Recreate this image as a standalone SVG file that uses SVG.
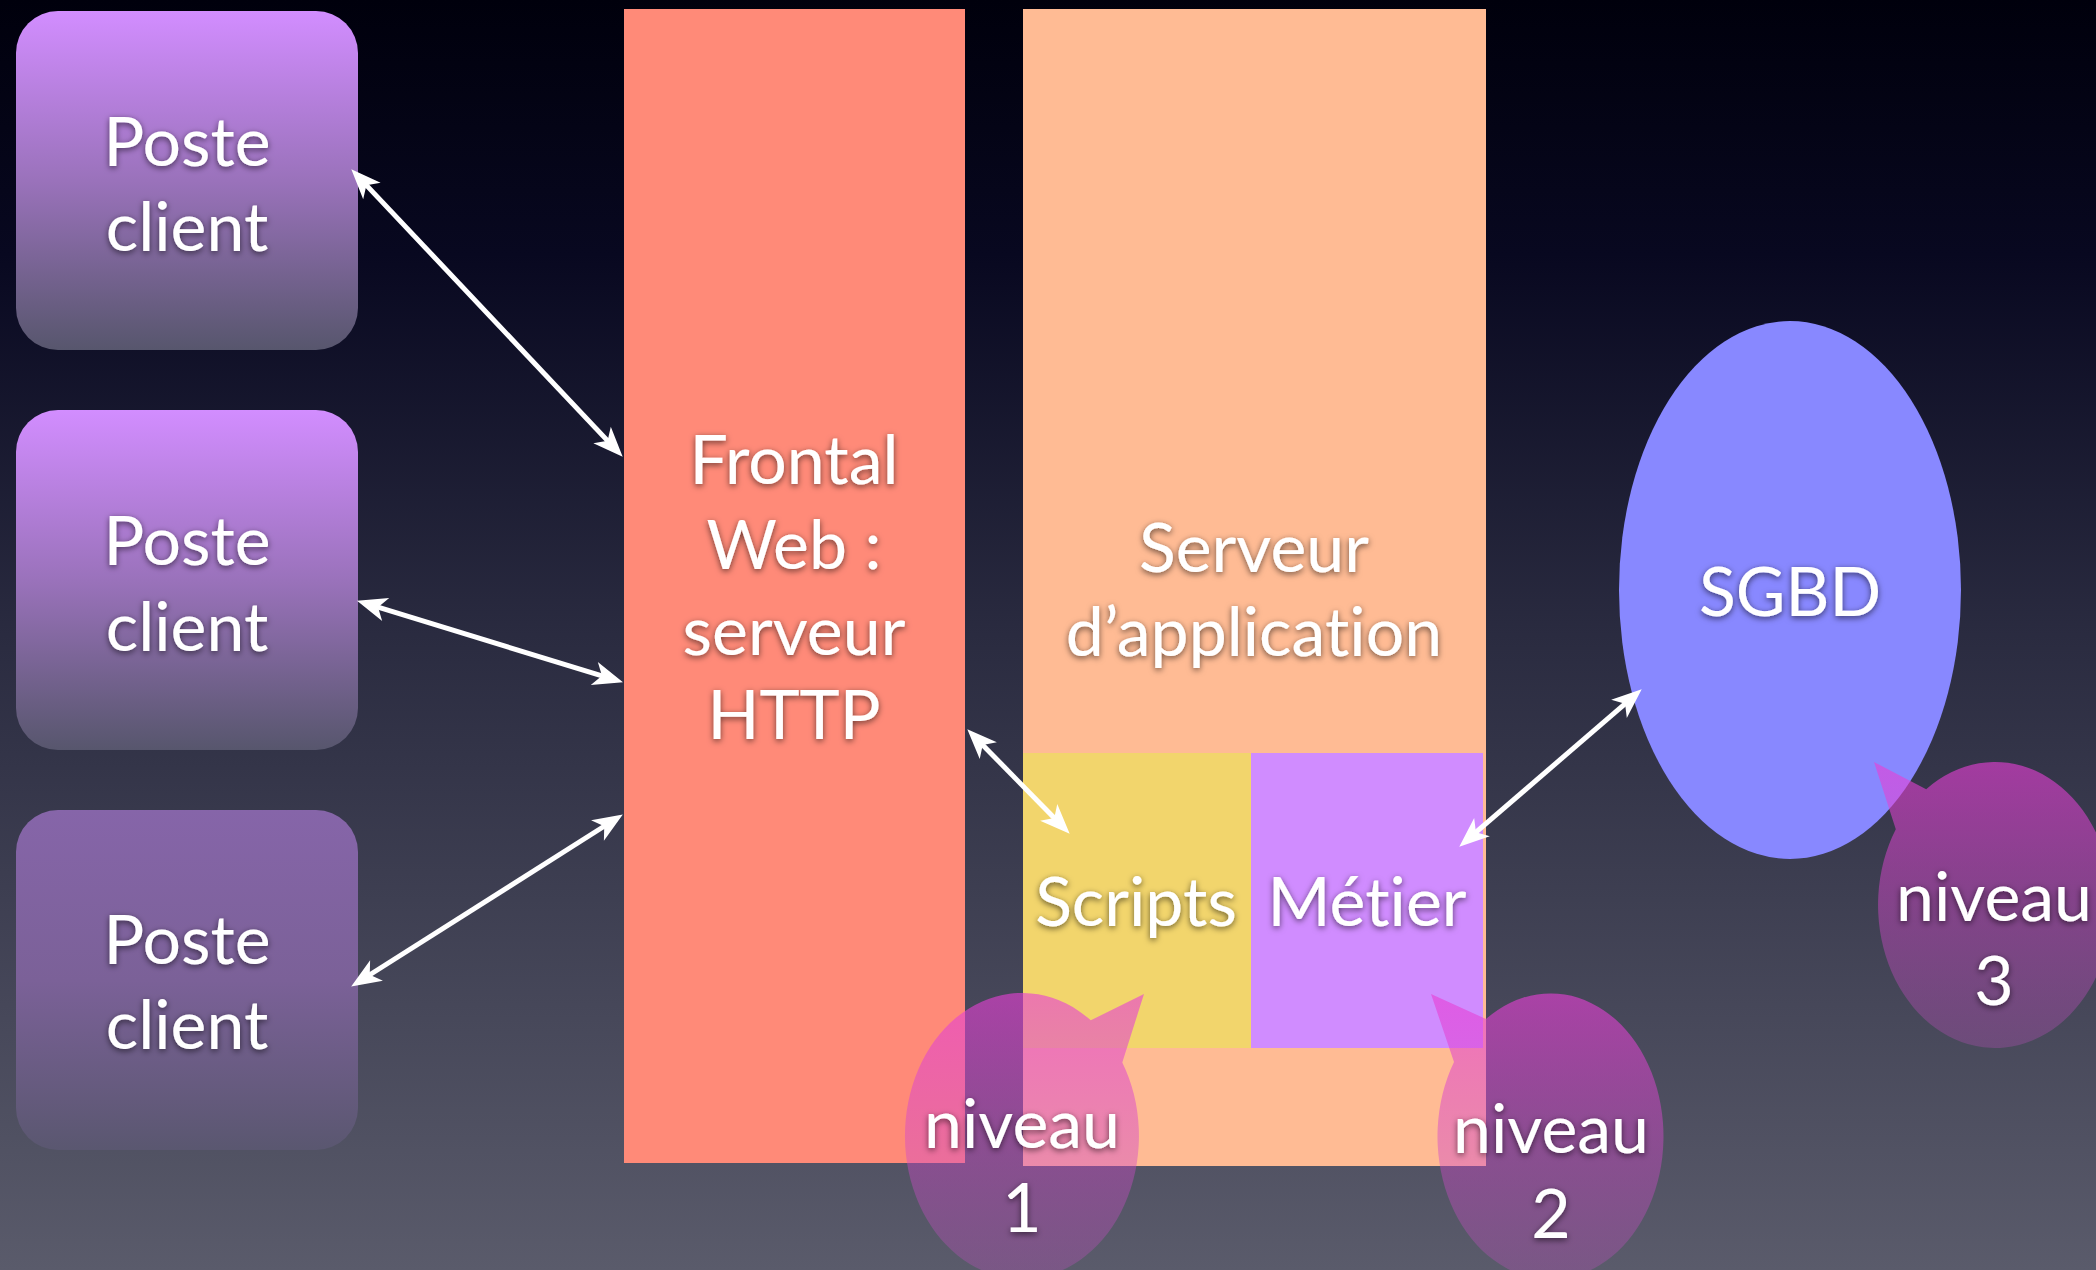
<svg xmlns="http://www.w3.org/2000/svg" width="2096" height="1270" viewBox="0 0 2096 1270">
<defs>
<linearGradient id="bg" x1="0" y1="0" x2="0" y2="1">
<stop offset="0" stop-color="#00000c"/>
<stop offset="0.2" stop-color="#080820"/>
<stop offset="0.5" stop-color="#2a2b40"/>
<stop offset="1" stop-color="#5a5b6b"/>
</linearGradient>
<linearGradient id="boxA" x1="0" y1="0" x2="0" y2="1">
<stop offset="0" stop-color="#d28dff"/>
<stop offset="0.5" stop-color="#9a72bb"/>
<stop offset="1" stop-color="#57566d"/>
</linearGradient>
<linearGradient id="boxB" x1="0" y1="0" x2="0" y2="1">
<stop offset="0" stop-color="#8665a9"/>
<stop offset="0.5" stop-color="#7b6198"/>
<stop offset="1" stop-color="#5a5770"/>
</linearGradient>
<linearGradient id="callout" x1="0" y1="0" x2="0" y2="1">
<stop offset="0" stop-color="#e83fd6" stop-opacity="0.62"/>
<stop offset="1" stop-color="#c050c0" stop-opacity="0.3"/>
</linearGradient>
<filter id="shadow" x="-20%" y="-20%" width="140%" height="150%">
<feDropShadow dx="0" dy="2" stdDeviation="3" flood-color="#000" flood-opacity="0.6"/>
</filter>
<marker id="head" markerUnits="userSpaceOnUse" viewBox="-16 -13 34 26" refX="0" refY="0" markerWidth="34" markerHeight="26" orient="auto-start-reverse" overflow="visible">
<path d="M16,0 L-14,-12 L-6,0 L-14,12 Z" fill="#fff"/>
</marker>
</defs>
<style>
.lbl{font-family:Lato,"Open Sans","DejaVu Sans",sans-serif;font-size:68px;fill:#fff;text-anchor:middle;font-variant-ligatures:none;filter:url(#shadow)}
.conn{stroke:#fff;stroke-width:5;fill:none;marker-start:url(#head);marker-end:url(#head)}
.co{fill:url(#callout)}
</style>
<rect x="0" y="0" width="2096" height="1270" fill="url(#bg)"/>

<g id="client1">
<rect x="16" y="11" width="342" height="339" rx="42" fill="url(#boxA)"/>
<text class="lbl" x="187" y="166">Poste</text>
<text class="lbl" x="187" y="251">client</text>
</g>
<g id="client2">
<rect x="16" y="410" width="342" height="340" rx="42" fill="url(#boxA)"/>
<text class="lbl" x="187" y="565">Poste</text>
<text class="lbl" x="187" y="651">client</text>
</g>
<g id="client3">
<rect x="16" y="810" width="342" height="340" rx="42" fill="url(#boxB)"/>
<text class="lbl" x="187" y="964">Poste</text>
<text class="lbl" x="187" y="1049">client</text>
</g>

<g id="frontal">
<rect x="624" y="9" width="341" height="1154" fill="#ff8a78"/>
<text class="lbl" x="794" y="484">Frontal</text>
<text class="lbl" x="794" y="569">Web :</text>
<text class="lbl" x="794" y="655">serveur</text>
<text class="lbl" x="794" y="739">HTTP</text>
</g>

<g id="serveur-app">
<rect x="1023" y="9" width="463" height="1157" fill="#ffbb94"/>
<text class="lbl" x="1254" y="572">Serveur</text>
<text class="lbl" x="1254" y="656">d’application</text>
</g>

<g id="scripts">
<rect x="1023" y="753" width="228" height="295" fill="#f2d56c"/>
<text class="lbl" x="1136" y="926">Scripts</text>
</g>

<g id="metier">
<rect x="1251" y="753" width="232" height="295" fill="#d08cff"/>
<text class="lbl" x="1367" y="926">Métier</text>
</g>

<g id="sgbd">
<ellipse cx="1790" cy="590" rx="171" ry="269" fill="#8888ff"/>
<text class="lbl" x="1790" y="616">SGBD</text>
</g>

<g id="connectors">
<line class="conn" x1="362.3" y1="180.9" x2="611.7" y2="445.1"/>
<line class="conn" x1="372.3" y1="605.4" x2="607.7" y2="677.6"/>
<line class="conn" x1="364.7" y1="978" x2="609.3" y2="823"/>
<line class="conn" x1="978.5" y1="740.7" x2="1058.5" y2="822.3"/>
<line class="conn" x1="1471.4" y1="836.2" x2="1629.6" y2="699.8"/>
</g>

<g id="niveau1">
<path class="co" d="M1090.8,1020.3 L1144,994 L1122.3,1062.4 A117,143 0 1 1 1090.8,1020.3 Z"/>
<text class="lbl" x="1022" y="1148">niveau</text>
<text class="lbl" x="1022" y="1232">1</text>
</g>

<g id="niveau2">
<path class="co" d="M1486,1019 L1431,994 L1454,1062 A113,143 0 1 0 1486,1019 Z"/>
<text class="lbl" x="1551" y="1153">niveau</text>
<text class="lbl" x="1551" y="1238">2</text>
</g>

<g id="niveau3">
<path class="co" d="M1926.2,789.3 L1874,762 L1895.8,829.2 A117,143 0 1 0 1926.2,789.3 Z"/>
<text class="lbl" x="1994" y="921">niveau</text>
<text class="lbl" x="1994" y="1005">3</text>
</g>
</svg>
